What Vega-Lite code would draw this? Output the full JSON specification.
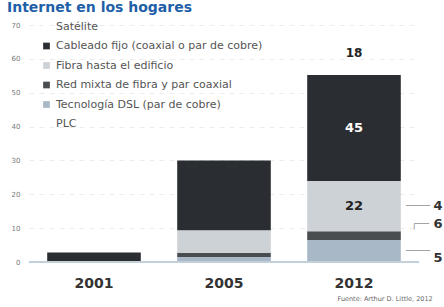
{
  "$schema": "https://vega.github.io/schema/vega-lite/v6.json",
  "width": 390,
  "height": 237,
  "autosize": "none",
  "padding": {"left": 29, "top": 25, "right": 25, "bottom": 45},
  "background": "white",
  "config": {
    "view": {"stroke": null},
    "font": "DejaVu Sans",
    "axisY": {
      "tickCount": 7, "labelOverlap": false,
      "labelFontSize": 7, "labelColor": "#777", "ticks": false, "domain": false,
      "grid": true, "gridColor": "#ececec", "gridDash": [5, 5], "labelPadding": 9
    },
    "axisX": {
      "labelFontSize": 14, "labelFontWeight": "bold", "labelColor": "#333",
      "ticks": false, "domain": false, "labelPadding": 14, "labelAngle": 0, "grid": false
    }
  },
  "title": {
    "text": "Internet en los hogares",
    "anchor": "start",
    "frame": "group",
    "dx": -22,
    "offset": -8,
    "baseline": "bottom",
    "fontSize": 14,
    "fontWeight": "bold",
    "color": "#1f5fa8"
  },
  "data": {
    "values": [
      {"year": "2001", "tipo": "Cableado fijo (coaxial o par de cobre)", "valor": 2.8},
      {"year": "2005", "tipo": "Tecnología DSL (par de cobre)", "valor": 1.5},
      {"year": "2005", "tipo": "Red mixta de fibra y par coaxial", "valor": 1.2},
      {"year": "2005", "tipo": "Fibra hasta el edificio", "valor": 6.7},
      {"year": "2005", "tipo": "Cableado fijo (coaxial o par de cobre)", "valor": 20.6},
      {"year": "2012", "tipo": "Tecnología DSL (par de cobre)", "valor": 6.5, "lab_side": "5"},
      {"year": "2012", "tipo": "Red mixta de fibra y par coaxial", "valor": 2.6, "lab_side": "6"},
      {"year": "2012", "tipo": "Fibra hasta el edificio", "valor": 14.8, "lab_in": "22", "lab_side": "4"},
      {"year": "2012", "tipo": "Cableado fijo (coaxial o par de cobre)", "valor": 31.3, "lab_in": "45"},
      {"year": "2012", "tipo": "Satélite", "valor": 0, "lab_top": "18"}
    ]
  },
  "transform": [
    {"calculate": "indexof(['Tecnología DSL (par de cobre)','Red mixta de fibra y par coaxial','Fibra hasta el edificio','Cableado fijo (coaxial o par de cobre)','Satélite'], datum.tipo)", "as": "orden"},
    {"stack": "valor", "groupby": ["year"], "sort": [{"field": "orden", "order": "ascending"}], "as": ["v0", "v1"]},
    {"calculate": "(datum.v0 + datum.v1) / 2", "as": "mid"}
  ],
  "layer": [
    {
      "mark": {"type": "bar"},
      "encoding": {
        "x": {
          "field": "year", "type": "nominal",
          "scale": {"domain": ["2001", "2005", "2012"], "paddingInner": 0.28, "paddingOuter": 0.14},
          "axis": {
            "title": "Fuente: Arthur D. Little, 2012",
            "titleFontSize": 6.5, "titleFontWeight": "normal", "titleColor": "#666",
            "titleAnchor": "start", "titleX": 308, "titleY": 36, "titleAlign": "left", "titleBaseline": "middle"
          }
        },
        "y": {
          "field": "v1", "type": "quantitative", "title": null,
          "scale": {"domain": [0, 70], "nice": false}
        },
        "y2": {"field": "v0"},
        "color": {
          "field": "tipo", "type": "nominal",
          "scale": {
            "domain": ["Satélite", "Cableado fijo (coaxial o par de cobre)", "Fibra hasta el edificio", "Red mixta de fibra y par coaxial", "Tecnología DSL (par de cobre)", "PLC"],
            "range": ["#ffffff", "#2a2d31", "#cdd2d6", "#4a4d50", "#a9b8c6", "#ffffff"]
          },
          "legend": {
            "orient": "none", "legendX": 12, "legendY": -4, "title": null,
            "symbolType": "square", "symbolSize": 45, "symbolStrokeWidth": 0,
            "labelFontSize": 11, "labelColor": "#555", "rowPadding": 7.5, "labelOffset": 4, "labelLimit": 320
          }
        }
      }
    },
    {
      "mark": {"type": "rule", "color": "#c3cfd9", "strokeWidth": 2},
      "encoding": {"y": {"datum": 0, "title": null}}
    },
    {
      "transform": [{"filter": "isValid(datum.lab_in)"}],
      "mark": {"type": "text", "fontSize": 13, "fontWeight": "bold", "baseline": "middle"},
      "encoding": {
        "x": {"field": "year", "type": "nominal"},
        "y": {"field": "mid", "type": "quantitative", "title": null},
        "text": {"field": "lab_in"},
        "color": {"condition": {"test": "datum.lab_in == '45'", "value": "#ffffff"}, "value": "#222222"}
      }
    },
    {
      "transform": [{"filter": "isValid(datum.lab_top)"}],
      "mark": {"type": "text", "fontSize": 12, "fontWeight": "bold", "color": "#222", "dy": -22, "baseline": "middle"},
      "encoding": {
        "x": {"field": "year", "type": "nominal"},
        "y": {"field": "v1", "type": "quantitative", "title": null},
        "text": {"field": "lab_top"}
      }
    },
    {
      "transform": [{"filter": "datum.lab_side == '4'"}],
      "mark": {"type": "text", "fontSize": 13, "fontWeight": "bold", "color": "#333", "dx": 84, "baseline": "middle"},
      "encoding": {
        "x": {"field": "year", "type": "nominal"},
        "y": {"field": "mid", "type": "quantitative", "title": null},
        "text": {"field": "lab_side"}
      }
    },
    {
      "transform": [{"filter": "datum.lab_side == '6'"}],
      "mark": {"type": "text", "fontSize": 13, "fontWeight": "bold", "color": "#333", "dx": 84, "dy": -12, "baseline": "middle"},
      "encoding": {
        "x": {"field": "year", "type": "nominal"},
        "y": {"field": "mid", "type": "quantitative", "title": null},
        "text": {"field": "lab_side"}
      }
    },
    {
      "transform": [{"filter": "datum.lab_side == '5'"}],
      "mark": {"type": "text", "fontSize": 13, "fontWeight": "bold", "color": "#333", "dx": 84, "dy": 7, "baseline": "middle"},
      "encoding": {
        "x": {"field": "year", "type": "nominal"},
        "y": {"field": "mid", "type": "quantitative", "title": null},
        "text": {"field": "lab_side"}
      }
    },
    {
      "transform": [{"filter": "datum.lab_side == '4' || datum.lab_side == '5'"}],
      "mark": {"type": "text", "fontSize": 10, "color": "#999", "dx": 64, "baseline": "middle"},
      "encoding": {
        "x": {"field": "year", "type": "nominal"},
        "y": {"field": "mid", "type": "quantitative", "title": null},
        "yOffset": {"condition": {"test": "datum.lab_side == '5'", "value": 7}, "value": 0},
        "text": {"value": "────"}
      }
    },
    {
      "transform": [{"filter": "datum.lab_side == '6'"}],
      "mark": {"type": "text", "fontSize": 10, "color": "#999", "dx": 66, "dy": -12, "baseline": "middle"},
      "encoding": {
        "x": {"field": "year", "type": "nominal"},
        "y": {"field": "mid", "type": "quantitative", "title": null},
        "text": {"value": "┌──"}
      }
    }
  ]
}
